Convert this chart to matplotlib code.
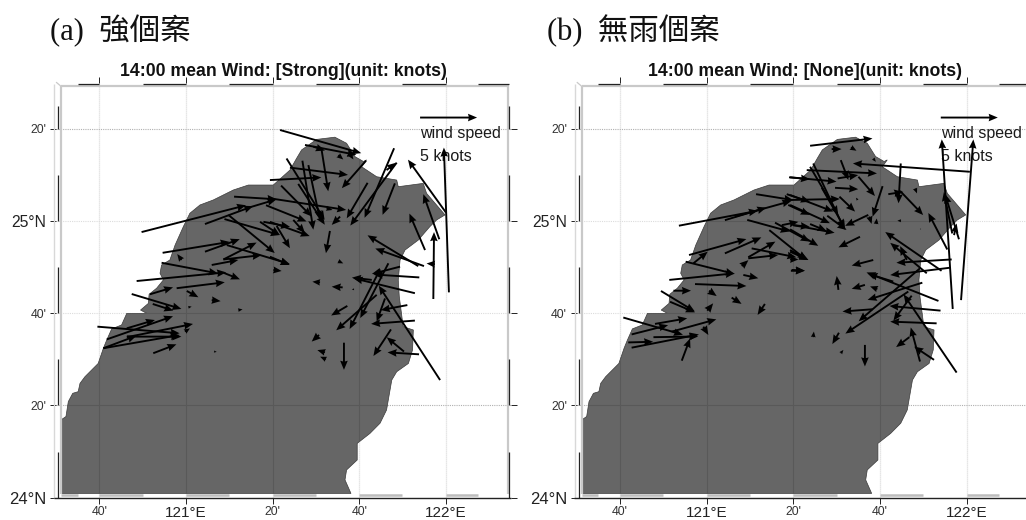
import matplotlib
matplotlib.use("Agg")
import matplotlib.pyplot as plt
from matplotlib.patches import Polygon

# ---------- coastline (lon, lat) ----------
coast_lon = [120.519,120.519,120.538,120.547,120.564,120.585,120.592,120.611,120.662,120.682,
             120.695,120.714,120.752,120.772,120.849,120.825,120.855,120.858,120.887,120.913,
             120.900,120.906,120.938,120.958,120.990,121.015,121.054,121.105,121.182,121.240,
             121.336,121.400,121.426,121.445,121.503,121.573,121.618,121.650,121.683,121.695,
             121.676,121.734,121.811,121.817,121.913,121.926,121.997,121.965,121.939,121.894,
             121.843,121.824,121.817,121.821,121.836,121.875,121.872,121.856,121.811,121.792,
             121.772,121.747,121.708,121.659,121.659,121.618,121.612,121.635]
coast_lat = [24.015,24.281,24.293,24.347,24.377,24.383,24.413,24.437,24.485,24.540,
             24.570,24.610,24.624,24.666,24.666,24.678,24.702,24.735,24.757,24.787,
             24.811,24.841,24.859,24.913,24.980,25.028,25.058,25.076,25.112,25.130,
             25.130,25.184,25.227,25.257,25.295,25.303,25.281,25.233,25.215,25.221,
             25.196,25.160,25.148,25.124,25.136,25.100,25.022,25.004,24.980,24.931,
             24.895,24.859,24.787,24.726,24.618,24.606,24.534,24.485,24.455,24.425,
             24.317,24.269,24.232,24.196,24.136,24.100,24.064,24.015]

# ---------- panel (a): strong cases ----------
strong_lon = [120.829,121.073,121.185,121.233,121.148,121.163,121.285,121.298,121.308,120.910,
              121.073,121.144,121.144,121.099,121.157,120.983,120.906,120.810,121.144,120.964,
              120.861,121.003,120.791,120.872,121.099,121.009,121.201,121.336,120.659,120.695,
              120.772,120.682,120.682,120.772,120.797,120.874,120.996,121.108,121.362,121.458,
              121.522,121.490,121.586,121.629,121.387,121.400,121.323,121.693,121.801,121.699,
              121.811,121.804,121.772,122.001,121.975,122.012,121.952,121.920,121.554,121.448,
              121.471,121.432,121.366,121.323,121.323,121.413,121.349,121.593,121.541,121.894,
              121.916,121.958,121.323,121.586,121.824,121.898,121.715,121.881,121.779,121.747,
              121.734,121.978,121.766,121.852,121.881,121.789,121.839,121.897,121.621,121.512,
              121.608,121.603,121.516,121.535,121.539,121.647]
strong_lat = [24.960,24.989,25.088,25.046,25.007,25.022,24.997,24.997,25.057,24.885,
              24.889,24.861,24.861,24.841,24.913,24.859,24.849,24.783,24.813,24.757,
              24.735,24.747,24.736,24.700,24.714,24.688,24.678,24.823,24.618,24.572,
              24.612,24.540,24.540,24.580,24.582,24.522,24.600,24.528,25.329,25.275,
              25.257,25.269,25.238,25.244,25.226,25.193,25.148,25.218,25.263,25.138,
              25.211,25.136,25.184,25.030,24.934,24.742,24.718,24.895,24.964,25.218,
              25.202,25.134,25.128,25.082,24.997,25.004,24.982,25.016,25.046,24.837,
              24.837,24.844,24.871,24.855,24.835,24.796,24.787,24.739,24.847,24.825,
              24.733,24.425,24.720,24.696,24.640,24.608,24.528,24.518,24.693,24.588,
              24.560,24.760,24.778,24.525,24.500,24.753]
strong_u = [9.16,4.22,3.72,2.62,4.85,4.07,1.74,2.33,3.55,5.87,
            3.05,2.91,3.34,2.33,5.52,-0.38,4.94,7.85,1.45,4.22,
            2.03,1.02,4.36,1.80,0.78,0.29,0.38,0.73,7.21,5.81,
            2.47,2.91,6.69,5.81,4.22,2.03,0.44,0.23,7.12,4.51,
            0.58,1.02,0.44,0.35,3.34,5.09,4.51,-2.12,-2.59,-1.83,
            -4.07,-1.08,0.81,-3.34,-1.40,-0.44,0.06,-1.37,-0.35,0.96,
            1.02,2.33,2.67,6.69,3.49,1.02,1.16,-0.73,0.52,-4.45,
            -4.27,-0.73,1.74,0.44,-2.47,-4.01,-1.74,-5.38,-2.47,-2.67,
            -3.55,-5.38,-0.73,-2.33,-3.84,-1.54,-1.51,-2.76,-1.42,-0.64,
            0.00,-0.96,-0.67,-0.67,-0.52,-0.20]
strong_v = [2.35,1.57,-0.23,0.78,-1.40,-3.34,-1.16,-0.44,-1.42,0.96,
            1.10,1.48,0.38,0.44,-1.66,0.52,-0.93,0.76,-0.58,0.52,
            0.61,-0.55,-1.31,-0.58,-0.09,0.06,0.06,-0.09,-0.58,2.03,
            0.73,1.10,1.16,1.16,0.00,0.78,0.29,-0.03,-2.03,-0.87,
            -3.63,-0.35,-0.38,-0.52,-5.38,-0.64,0.23,-2.41,-6.10,-3.11,
            -5.52,-2.76,0.64,4.65,3.95,12.70,5.87,3.20,-1.95,-6.05,
            -4.80,-3.58,-2.70,-1.02,-1.25,-1.16,-1.95,-0.73,-0.15,2.70,
            1.54,0.06,-0.73,-0.20,-0.64,0.26,0.20,1.31,-4.80,-5.23,
            -3.11,8.28,-2.03,-0.44,-0.29,-2.33,1.25,0.17,-0.84,-0.58,
            -2.38,0.06,0.06,0.20,0.23,0.00]

# ---------- panel (b): no-rain cases ----------
none_lon = [120.893,121.070,121.109,121.190,121.156,121.263,121.241,121.289,121.333,121.317,
            121.308,121.314,120.932,121.070,120.949,121.160,121.173,121.160,121.135,120.919,
            120.856,120.955,120.872,120.824,120.859,121.141,121.327,121.096,121.009,121.002,
            121.224,120.679,120.801,120.711,120.865,120.711,120.698,120.795,120.904,120.987,
            121.398,121.481,121.555,122.013,121.979,121.947,121.385,121.321,121.410,121.443,
            121.398,121.516,121.504,121.584,121.494,121.511,121.321,121.321,121.321,121.333,
            121.398,121.464,121.321,121.321,121.622,121.677,121.590,121.641,121.747,121.699,
            121.744,121.926,121.945,121.971,121.952,121.652,121.626,121.581,121.748,121.821,
            121.802,121.641,121.904,121.847,121.943,121.936,121.770,121.892,121.718,121.830,
            121.821,121.776,121.900,121.639,121.962,121.789,121.885,121.821,121.875,121.780,
            121.609,121.509,121.609,121.507,121.657,121.410,121.516,121.324,121.321,121.321]
none_lat = [24.983,25.003,25.016,25.097,25.004,24.994,24.967,24.985,24.985,25.158,
            25.097,25.058,24.877,24.883,24.847,24.869,24.901,24.865,24.837,24.853,
            24.787,24.772,24.748,24.747,24.708,24.805,24.823,24.723,24.748,24.676,
            24.700,24.651,24.628,24.590,24.600,24.542,24.561,24.580,24.495,24.618,
            25.272,25.260,25.266,25.178,24.714,24.682,25.184,25.158,25.208,25.120,
            25.196,25.220,25.154,25.160,25.120,25.088,25.076,25.094,25.058,24.985,
            24.989,25.019,24.970,24.889,25.022,25.126,24.943,24.859,25.208,25.097,
            25.109,24.897,24.955,24.934,24.949,24.989,25.016,25.076,25.001,24.971,
            25.118,25.226,24.820,24.811,24.861,24.831,24.859,24.711,24.781,24.777,
            24.829,24.745,24.676,24.681,24.452,24.730,24.630,24.492,24.498,24.580,
            24.552,24.596,24.769,24.751,24.754,24.580,24.522,24.820,24.895,24.861]
none_u = [6.92,3.63,4.94,3.26,3.72,3.05,3.26,1.45,1.45,1.83,
          2.03,1.89,5.03,3.20,1.25,2.38,3.92,2.62,0.58,4.30,
          5.73,4.51,1.54,2.97,2.18,1.31,1.16,0.87,0.67,0.52,
          -0.64,5.23,2.82,3.20,3.92,5.90,2.18,3.92,0.73,0.44,
          5.47,0.87,0.49,-10.26,1.08,-0.96,6.16,4.07,2.76,2.03,
          2.47,0.67,1.80,1.45,2.03,1.37,4.36,3.78,3.49,3.63,
          1.45,1.69,2.47,1.60,-2.03,-0.87,-1.89,-1.89,-0.20,1.31,
          2.03,-1.66,-0.73,-1.22,0.23,0.06,0.20,-0.15,-0.32,0.10,
          0.17,0.23,-4.94,-3.20,-4.85,-5.23,-0.58,-6.31,-2.18,-4.80,
          -5.38,-5.52,-4.48,-2.65,-4.65,-1.60,-4.07,-0.81,-1.74,-1.16,
          0.00,-0.58,-1.16,-0.15,-0.64,0.06,0.23,1.22,1.60,0.73]
none_v = [1.31,1.10,1.37,-0.52,-1.02,-1.66,-2.62,0.29,-0.15,-0.17,
          -0.67,-0.87,1.40,1.40,1.02,1.37,-0.78,0.29,0.52,-1.08,
          0.58,-0.17,0.00,-1.80,-0.93,-0.29,-0.06,-0.55,-0.47,0.64,
          -0.96,-1.51,0.49,0.81,1.08,1.16,0.06,0.06,1.95,-0.73,
          0.64,0.00,-0.29,0.73,14.10,14.88,-0.29,-0.38,-5.81,-3.55,
          -4.22,-1.74,0.29,-1.69,-0.12,-1.31,0.09,-1.45,-1.60,-0.67,
          -0.61,-1.25,-1.45,-0.73,-0.96,-2.67,-0.93,-0.49,-3.49,0.20,
          -2.12,3.20,3.63,3.95,1.02,0.49,-0.64,0.20,0.00,0.00,
          -0.44,-0.29,3.40,2.67,-0.29,-0.64,1.22,2.50,0.67,-1.51,
          -4.65,-3.69,0.41,-0.20,6.86,-2.18,0.15,2.99,1.16,-0.87,
          -1.89,-0.99,-0.35,1.22,0.23,0.49,0.29,0.00,-0.87,0.00]

# ---------- reference arrow and labels ----------
ref_speed = 5
ref_lon = 121.901
ref_lat = 25.374
ref_text_lon = 121.901
ref_line1_lat = 25.317
ref_line2_lat = 25.233

x_ticks = [120 + 40/60, 121, 121 + 20/60, 121 + 40/60, 122]
x_labels = ["40'", "121°E", "20'", "40'", "122°E"]
y_ticks = [24, 24 + 20/60, 24 + 40/60, 25, 25 + 20/60]
y_labels = ["24°N", "20'", "40'", "25°N", "20'"]
lon_range = [120.5, 122.25]
lat_range = [24.0, 25.5]

# alternating segments of the fancy frame
lon_segments = [(120 + 35/60, 120 + 40/60), (120 + 50/60, 121), (121 + 10/60, 121 + 20/60),
                (121 + 30/60, 121 + 40/60), (121 + 50/60, 122), (122 + 7.5/60, 122.245)]
lon_gaps = [(120.519, 120 + 35/60), (120 + 40/60, 120 + 50/60), (121, 121 + 10/60),
            (121 + 20/60, 121 + 30/60), (121 + 40/60, 121 + 50/60), (122, 122 + 7.5/60)]
lat_segments = [(24, 24 + 10/60), (24 + 30/60, 24 + 20/60), (24 + 50/60, 24 + 40/60),
                (25 + 10/60, 25), (25 + 25/60, 25 + 20/60)]

panel_titles = ["14:00 mean Wind: [Strong](unit: knots)", "14:00 mean Wind: [None](unit: knots)"]
panel_heads = ["(a)  強個案", "(b)  無雨個案"]

W, H = 1026, 520
plt.rcParams["font.family"] = ["Liberation Sans", "DejaVu Sans"]
fig = plt.figure(figsize=(W / 100, H / 100), dpi=100)
fig.patch.set_facecolor("white")

head_font = ["Liberation Serif", "Noto Sans CJK TC", "DejaVu Sans"]
LAND = "#666666"
ARROW = dict(angles="uv", scale_units="dots", scale=5 / 57, units="dots", width=1.9,
             headwidth=4.0, headlength=4.8, headaxislength=4.4, color="black", zorder=5)


def draw_panel(left_px, title, title_cx, head, head_x, lon, lat, u, v):
    right_px = left_px + 454.65
    top_px, bottom_px = 82.7, 497.6
    ax = fig.add_axes([left_px / W, 1 - bottom_px / H, (right_px - left_px) / W, (bottom_px - top_px) / H])
    ax.set_xlim(lon_range)
    ax.set_ylim(lat_range)
    for s in ax.spines.values():
        s.set_visible(False)

    # grid, white part
    for x in x_ticks:
        ax.axvline(x, color="#dedede", lw=0.9, ls=(0, (1, 0.6)), zorder=1)
    for y in y_ticks:
        col = "#b0b0b0" if y > 25.2 or abs(y - 24.333) < 0.01 else "#dcdcdc"
        ax.axhline(y, color=col, lw=0.8, ls=(0, (1, 1)), zorder=1)

    land = Polygon(list(zip(coast_lon, coast_lat)), closed=True, facecolor=LAND,
                   edgecolor="#3a3a3a", lw=0.5, zorder=2)
    ax.add_patch(land)

    # grid, over land
    for x in x_ticks:
        ln = ax.axvline(x, color="#595959", lw=0.8, zorder=3)
        ln.set_clip_path(land)
    for y in y_ticks:
        ln = ax.axhline(y, color="#595959", lw=0.8, zorder=3)
        ln.set_clip_path(land)

    ax.quiver(lon, lat, u, v, minlength=0.3, minshaft=1.0, **ARROW)
    ax.quiver([ref_lon], [ref_lat], [ref_speed], [0], clip_on=False, **ARROW)
    ax.text(ref_text_lon, ref_line1_lat, "wind speed", fontsize=11.5, va="center", ha="left",
            color="#1a1a1a", zorder=4)
    ax.text(ref_text_lon, ref_line2_lat, "5 knots", fontsize=11.5, va="center", ha="left",
            color="#1a1a1a", zorder=4)

    # fancy frame
    gray = "#c9c9c9"
    kw = dict(clip_on=False, solid_capstyle="butt", zorder=6)
    ax.plot([120.519, 122.245], [25.487, 25.487], color=gray, lw=1.6, **kw)
    ax.plot([120.519, 120.519], [24.012, 25.487], color=gray, lw=1.6, **kw)
    ax.plot([120.500, 120.519], [25.502, 25.487], color=gray, lw=0.9, **kw)
    ax.plot([122.240, 122.240], [24.012, 25.487], color=gray, lw=1.6, **kw)
    ax.plot([120.493, 120.493], [24.0, 25.495], color="#d8d8d8", lw=1.0, **kw)
    for a, b in lon_segments:
        ax.plot([a, b], [25.495, 25.495], color="#222222", lw=0.9, **kw)
    for a, b in lon_gaps:
        ax.plot([a, b], [24.008, 24.008], color="#bdbdbd", lw=1.8, **kw)
    for a, b in lat_segments:
        ax.plot([120.507, 120.507], [a, b], color="#222222", lw=0.9, **kw)
        ax.plot([122.245, 122.245], [a, b], color="#222222", lw=0.9, **kw)
    ax.plot([120.49, 122.25], [24.0, 24.0], color="#222222", lw=1.0, **kw)

    # ticks and labels
    ax.set_xticks(x_ticks)
    ax.set_xticklabels(x_labels)
    ax.set_yticks(y_ticks)
    ax.set_yticklabels(y_labels)
    ax.tick_params(axis="both", which="major", length=4.5, width=0.7, color="#222222",
                   top=True, right=True, labeltop=False, labelright=False)
    ax.tick_params(axis="x", pad=1.8)
    ax.tick_params(axis="y", pad=2.5)
    for t, s in zip(ax.get_xticklabels(), x_labels):
        t.set_fontsize(11 if "E" in s else 8.8)
        t.set_color("#222222" if "E" in s else "#333333")
    for t, s in zip(ax.get_yticklabels(), y_labels):
        t.set_fontsize(11.3 if s == "25°N" else (12 if s == "24°N" else 8.8))
        t.set_color("#222222" if "N" in s else "#333333")

    fig.text(title_cx / W, 1 - 71 / H, title, fontsize=12.7, fontweight="bold", ha="center",
             va="center", color="#111111")
    fig.text(head_x / W, 1 - 31 / H, head, fontsize=22, ha="left", va="center", family=head_font,
             color="#111111")


draw_panel(56.1, panel_titles[0], 283.7, panel_heads[0], 50, strong_lon, strong_lat, strong_u, strong_v)
draw_panel(576.8, panel_titles[1], 805, panel_heads[1], 547, none_lon, none_lat, none_u, none_v)

fig.savefig("out.png", dpi=100, facecolor="white")
